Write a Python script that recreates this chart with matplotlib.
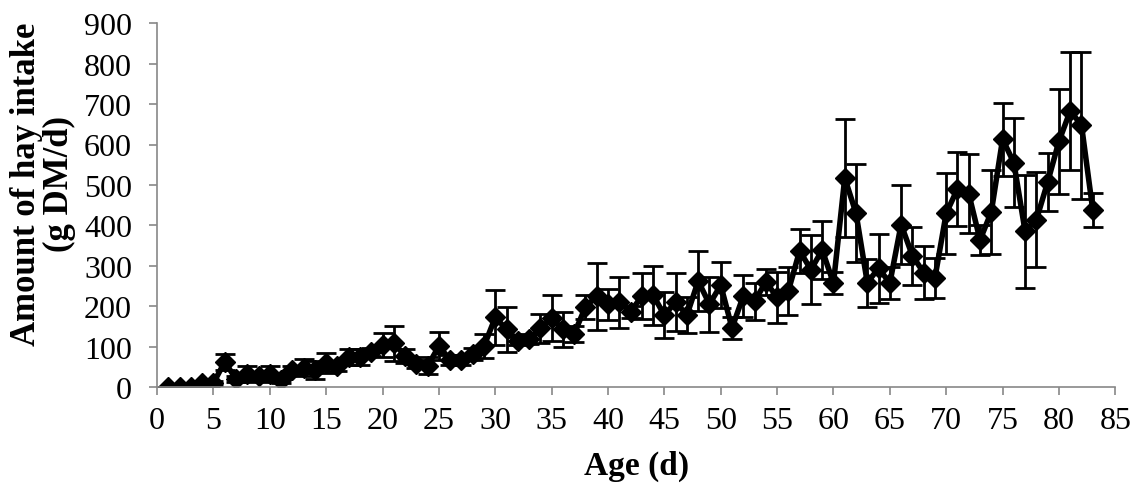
import matplotlib.pyplot as plt

# Idade (d), consumo médio de feno (g MS/d) e desvio
idade = list(range(1, 84))
consumo = [0, 0, 0, 9, 10, 62, 20, 32, 28, 33, 17, 42, 48, 42, 60,
           52, 74, 74, 86, 104, 108, 77, 58, 52, 101, 67, 67, 82, 101, 172,
           143, 114, 118, 145, 170, 143, 132, 198, 225, 205, 210, 186, 225, 227, 178,
           210, 178, 262, 205, 252, 146, 225, 212, 260, 222, 238, 337, 290, 339, 257,
           517, 430, 258, 294, 257, 402, 325, 283, 270, 430, 490, 478, 364, 433, 613,
           555, 385, 414, 507, 608, 683, 648, 438]
erro = [0, 0, 0, 3, 4, 20, 8, 20, 10, 20, 8, 10, 22, 22, 25,
        12, 20, 20, 10, 30, 44, 18, 10, 21, 35, 12, 12, 15, 30, 69,
        56, 10, 12, 35, 57, 43, 20, 30, 83, 38, 63, 15, 57, 73, 57,
        72, 45, 75, 68, 57, 27, 51, 45, 33, 63, 60, 55, 85, 72, 28,
        146, 121, 59, 85, 40, 97, 72, 65, 50, 100, 92, 98, 37, 103, 90,
        110, 140, 118, 72, 130, 145, 182, 41]

plt.rcParams['font.family'] = ['Liberation Serif', 'DejaVu Serif']

fig = plt.figure(figsize=(11.3, 4.85), dpi=100)
ax = fig.add_axes([0.139, 0.2, 0.848, 0.75])

ax.errorbar(idade, consumo, yerr=erro, color='black', linewidth=4,
            marker='D', markersize=10, ecolor='black', elinewidth=2,
            capsize=7, capthick=2)

ax.set_xlim(0, 85)
ax.set_ylim(0, 900)
ax.set_xticks(range(0, 86, 5))
ax.set_yticks(range(0, 901, 100))

for lado in ['top', 'right']:
    ax.spines[lado].set_visible(False)
for lado in ['left', 'bottom']:
    ax.spines[lado].set_color('#888888')
    ax.spines[lado].set_linewidth(1.2)

ax.tick_params(axis='both', direction='out', length=6, width=1.2,
               color='#888888', labelsize=23)
ax.tick_params(axis='y', pad=12)
ax.tick_params(axis='x', pad=8)

ax.set_xlabel('Age (d)', fontsize=24, fontweight='bold', labelpad=10)
ax.set_ylabel('Amount of hay intake\n(g DM/d)', fontsize=25,
              fontweight='bold', linespacing=1.0)
ax.yaxis.set_label_coords(-0.085, 0.56)

fig.savefig('out.png', dpi=100)
